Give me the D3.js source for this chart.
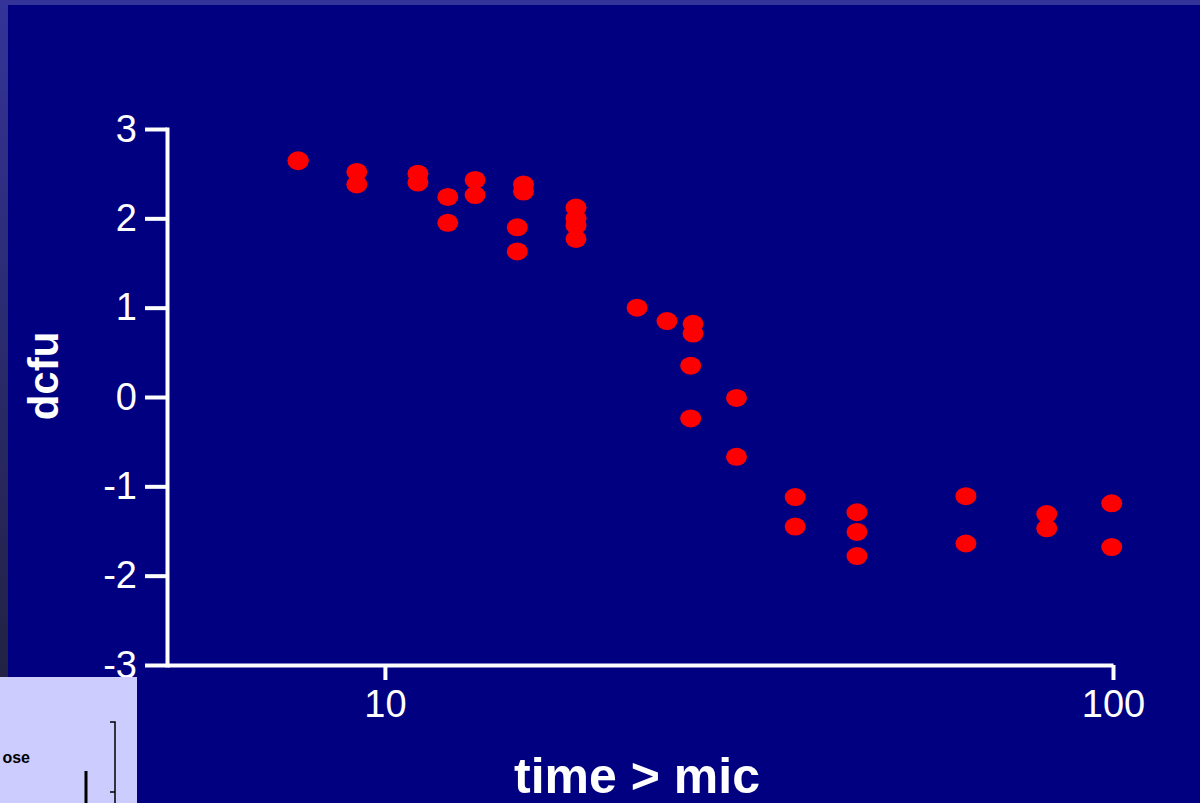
<!DOCTYPE html>
<html lang="en">
<head>
    <meta charset="UTF-8">
    <title>dcfu vs time > mic</title>
    <script src="https://d3js.org/d3.v7.min.js"></script>
    <style>
        body { margin: 0; background: #333399; }
        svg { display: block; }
    </style>
</head>
<body>
<script>
    // time above MIC (log axis) and change in cfu
    var timeMic = [7.6, 7.6, 9.15, 9.15, 11.1, 11.1, 12.2, 12.2, 13.3, 13.3,
                   15.5, 15.5, 15.2, 15.2, 18.3, 18.3, 18.3, 18.3,
                   22.2, 24.4, 26.5, 26.5, 26.3, 26.3, 30.4, 30.4,
                   36.6, 36.6, 44.5, 44.5, 44.5, 62.8, 62.8, 81.1, 81.1, 99.6, 99.6];
    var dcfu = [2.64, 2.65, 2.52, 2.38, 2.50, 2.40, 2.24, 1.95, 2.43, 2.26,
                2.38, 2.30, 1.90, 1.63, 2.12, 2.00, 1.92, 1.77,
                1.00, 0.85, 0.82, 0.71, 0.35, -0.24, -0.01, -0.67,
                -1.12, -1.45, -1.29, -1.51, -1.78, -1.11, -1.64, -1.31, -1.47, -1.19, -1.68];
    var xTicks = [10, 100];
    var yTicks = [-3, -2, -1, 0, 1, 2, 3];

    var w = 1200;
    var h = 803;

    var svg = d3.select("body")
        .append("svg")
        .attr("width", w)
        .attr("height", h);

    // frame: left strip fades darker towards the bottom
    var grad = svg.append("defs").append("linearGradient")
        .attr("id", "strip")
        .attr("x1", 0).attr("y1", 0).attr("x2", 0).attr("y2", 1);
    grad.append("stop").attr("offset", "0%").attr("stop-color", "#333399");
    grad.append("stop").attr("offset", "100%").attr("stop-color", "#222244");

    svg.append("rect")
        .attr("x", 0).attr("y", 0)
        .attr("width", w).attr("height", 5)
        .attr("fill", "#333399");
    svg.append("rect")
        .attr("x", 0).attr("y", 0)
        .attr("width", 8).attr("height", 677)
        .attr("fill", "url(#strip)");
    svg.append("rect")
        .attr("x", 8).attr("y", 5)
        .attr("width", w - 8).attr("height", h - 5)
        .attr("fill", "#000080");

    var x = d3.scaleLog()
        .domain([5.02, 100])
        .range([167, 1113]);

    var y = d3.scaleLinear()
        .domain([-3, 3])
        .range([665, 129]);

    var xAxis = svg.append("g")
        .attr("transform", "translate(0," + y(-3) + ")")
        .call(d3.axisBottom(x)
            .tickValues(xTicks)
            .tickFormat(d3.format("d"))
            .tickSize(15)
            .tickPadding(10)
            .tickSizeOuter(0));

    var yAxis = svg.append("g")
        .attr("transform", "translate(" + x(5.02) + ",0)")
        .call(d3.axisLeft(y)
            .tickValues(yTicks)
            .tickFormat(function(d) { return d < 0 ? "-" + Math.abs(d) : d; })
            .tickSize(22)
            .tickPadding(8)
            .tickSizeOuter(0));

    [xAxis, yAxis].forEach(function(g) {
        g.selectAll("path, line")
            .attr("stroke", "white")
            .attr("stroke-width", 4);
        g.selectAll("text")
            .attr("fill", "white")
            .style("font-family", "'Liberation Sans', Arial, sans-serif")
            .style("font-size", "38px");
    });
    yAxis.select(".domain").attr("stroke-linecap", "square");

    svg.selectAll("ellipse.pt")
        .data(timeMic)
        .enter()
        .append("ellipse")
        .attr("class", "pt")
        .attr("cx", function(d) { return x(d); })
        .attr("cy", function(d, i) { return y(dcfu[i]); })
        .attr("rx", 10.5)
        .attr("ry", 9)
        .attr("fill", "#ff0000");

    svg.append("text")
        .attr("x", 637)
        .attr("y", 793)
        .attr("text-anchor", "middle")
        .attr("fill", "white")
        .style("font-family", "'Liberation Sans', Arial, sans-serif")
        .style("font-weight", "bold")
        .style("font-size", "50px")
        .text("time > mic");

    svg.append("text")
        .attr("transform", "translate(58,376) rotate(-90)")
        .attr("text-anchor", "middle")
        .attr("fill", "white")
        .style("font-family", "'Liberation Sans', Arial, sans-serif")
        .style("font-weight", "bold")
        .style("font-size", "42px")
        .text("dcfu");

    // corner of another slide poking in at the bottom left
    var inset = svg.append("g");
    inset.append("rect")
        .attr("x", 0).attr("y", 677)
        .attr("width", 137).attr("height", h - 677)
        .attr("fill", "#ccccff");
    inset.append("text")
        .attr("x", 30).attr("y", 763)
        .attr("text-anchor", "end")
        .attr("fill", "black")
        .style("font-family", "'Liberation Sans', Arial, sans-serif")
        .style("font-weight", "bold")
        .style("font-size", "16px")
        .text("ose");
    inset.append("path")
        .attr("d", "M110,722H115V803M110,792H115")
        .attr("fill", "none")
        .attr("stroke", "black")
        .attr("stroke-width", 1.5);
    inset.append("line")
        .attr("x1", 86).attr("x2", 86)
        .attr("y1", 771).attr("y2", 803)
        .attr("stroke", "black")
        .attr("stroke-width", 3);
</script>
</body>
</html>
